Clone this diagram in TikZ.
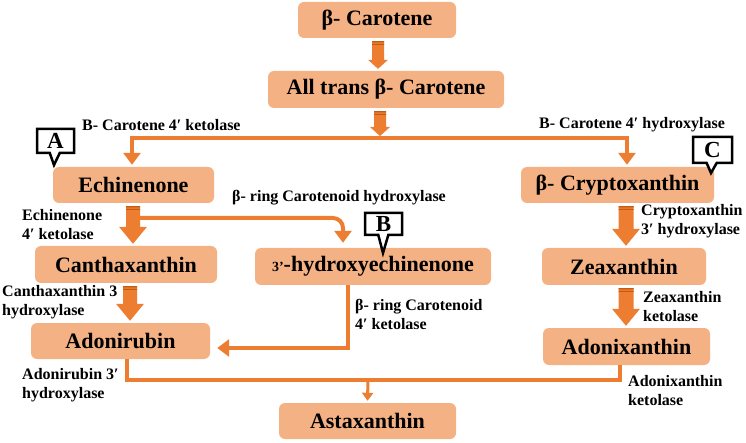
\documentclass[tikz,border=0pt]{standalone}
\usepackage{fontspec}
\setmainfont{Liberation Serif}
\usetikzlibrary{calc,arrows.meta,shapes.callouts}
\definecolor{boxfill}{HTML}{F4B183}
\definecolor{arrowc}{HTML}{ED7D31}
\definecolor{stripec}{HTML}{C55A11}
% block arrow: #1 x, #2 from point, #3 to point, #4 shaft half width, #5 head half width, #6 head length
\newcommand{\barrow}[6]{%
 \fill[arrowc] let \p1=(#2), \p2=(#3) in
  ({#1pt-#4pt},{\y1-3pt}) -- ({#1pt+#4pt},{\y1-3pt}) -- ({#1pt+#4pt},{\y2+#6pt+2pt})
  -- ({#1pt+#5pt},{\y2+#6pt+2pt}) -- ({#1pt},{\y2+2pt}) -- ({#1pt-#5pt},{\y2+#6pt+2pt})
  -- ({#1pt-#4pt},{\y2+#6pt+2pt}) -- cycle;
 \fill[stripec] let \p1=(#2) in ({#1pt-#4pt},{\y1-3pt}) rectangle ({#1pt+#4pt},{\y1-4.3pt})
  ({#1pt-#4pt},{\y1-5.6pt}) rectangle ({#1pt+#4pt},{\y1-6.6pt});
}
\begin{document}
\begin{tikzpicture}[x=1pt,y=-1pt,
 box/.style={fill=boxfill, rounded corners=6pt, inner sep=0pt, font=\fontsize{22}{24}\selectfont\bfseries},
 lbl/.style={font=\fontsize{16}{19}\selectfont\bfseries, inner sep=0pt, align=left, anchor=west},
 conn/.style={draw=arrowc, line width=4pt},
 tipbig/.style={-{Triangle[width=17pt,length=12pt]}},
 tipsmall/.style={-{Triangle[width=11pt,length=8pt]}},
 callbox/.style={rectangle callout, draw=black, fill=white, line width=2.5pt, callout pointer width=10pt,
   inner sep=0pt, font=\fontsize{23}{23}\selectfont\bfseries}
]
\useasboundingbox (0,0) rectangle (746,443);

% boxes
\node[box, minimum width=158pt, minimum height=36pt] (carotene) at (377,20) {β- Carotene};
\node[box, minimum width=236pt, minimum height=37pt] (alltrans) at (386,89.5) {All trans β- Carotene};
\node[box, minimum width=161pt, minimum height=36pt] (echinenone) at (133.5,185) {Echinenone};
\node[box, minimum width=193pt, minimum height=36pt] (crypto) at (617.5,185) {β- Cryptoxanthin};
\node[box, minimum width=182pt, minimum height=37pt] (cantha) at (126,264.5) {Canthaxanthin};
\node[box, minimum width=236pt, minimum height=37pt] (hydroxy) at (373,266.5) {{\fontsize{14}{14}\selectfont 3’}-hydroxyechinenone};
\node[box, minimum width=164pt, minimum height=37pt] (zea) at (624,266.5) {Zeaxanthin};
\node[box, minimum width=179pt, minimum height=36pt] (adonirubin) at (120.5,341) {Adonirubin};
\node[box, minimum width=167pt, minimum height=37pt] (adonixanthin) at (626.5,346.5) {Adonixanthin};
\node[box, minimum width=177pt, minimum height=36pt] (astaxanthin) at (367.5,421) {Astaxanthin};

% connector lines
\coordinate (split) at (380,138);
\draw[conn,tipbig] (split) -| ([xshift=-1.5pt,yshift=2pt]echinenone.north);
\draw[conn,tipbig] (split) -| ([xshift=9.5pt,yshift=2pt]crypto.north);
\coordinate (branch) at (133,218);
\draw[conn,tipbig,rounded corners=10pt] (branch) -| ([xshift=-30pt,yshift=5pt]hydroxy.north);
\draw[conn,tipbig] ([xshift=-25pt]hydroxy.south) |- ([xshift=7pt,yshift=-7pt]adonirubin.east);
\coordinate (join) at (368,380);
\draw[conn] ([xshift=6.5pt]adonirubin.south) |- (join) -| ([xshift=-6.5pt]adonixanthin.south);
\draw[draw=arrowc, line width=3pt, tipsmall] (join) -- ([yshift=2pt]astaxanthin.north);

% block arrows
\barrow{378}{carotene.south}{alltrans.north}{6}{10}{9}
\barrow{380}{alltrans.south}{split}{6}{10}{9}
\barrow{133}{echinenone.south}{cantha.north}{7}{14}{17}
\barrow{130}{cantha.south}{adonirubin.north}{7}{14}{17}
\barrow{626}{crypto.south}{zea.north}{7.5}{14}{17}
\barrow{626}{zea.south}{adonixanthin.north}{7.5}{14}{17}

% labels
\node[lbl] (k1) at (82,125) {B- Carotene 4′ ketolase};
\node[lbl] (h1) at (539,125) {B- Carotene 4′ hydroxylase};
\node[lbl] (rh) at (232,198) {β- ring Carotenoid hydroxylase};
\node[lbl] (ek) at (22,224.5) {Echinenone\\4′ ketolase};
\node[lbl] (ch) at (2,302.5) {Canthaxanthin 3\\hydroxylase};
\node[lbl] (rk) at (355,314) {β- ring Carotenoid\\4′ ketolase};
\node[lbl] (ah) at (22,385.5) {Adonirubin 3′\\hydroxylase};
\node[lbl] (cx) at (641,221) {Cryptoxanthin\\3′ hydroxylase};
\node[lbl] (zk) at (643,307) {Zeaxanthin\\ketolase};
\node[lbl] (ak) at (628,391) {Adonixanthin\\ketolase};

% callouts
\node[callbox, minimum width=37pt, minimum height=24pt, callout absolute pointer={(54,165)}] (cA) at (55.5,141) {A};
\node[callbox, minimum width=37pt, minimum height=22pt, callout absolute pointer={(383,253)}] (cB) at (383.5,224) {B};
\node[callbox, minimum width=39pt, minimum height=26pt, callout absolute pointer={(711,173)}] (cC) at (712.5,150) {C};
\end{tikzpicture}
\end{document}
